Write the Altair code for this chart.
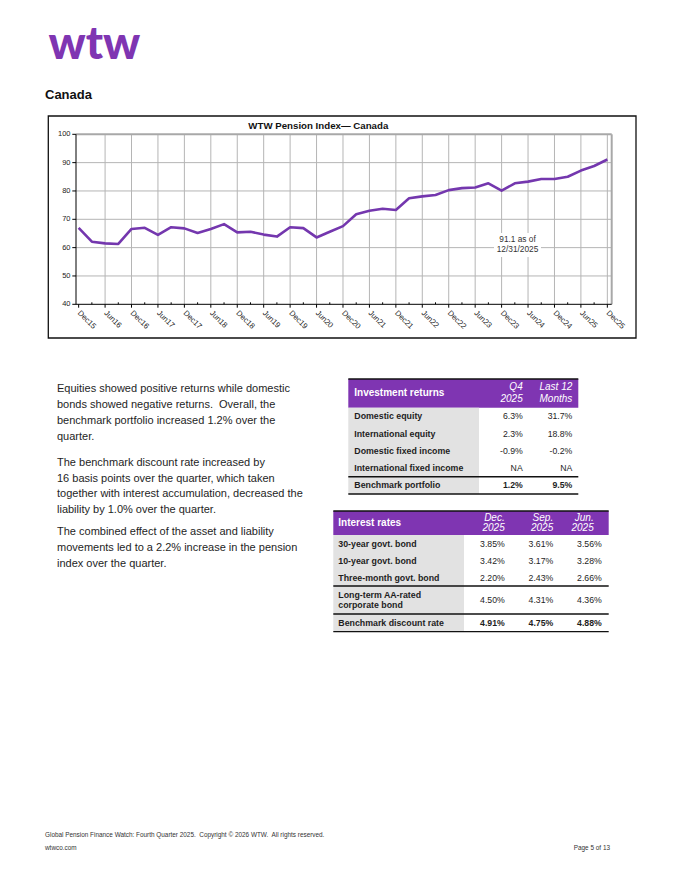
import altair as alt
import pandas as pd

# ---------------- data ----------------
quarters = ["Dec15", "Mar16", "Jun16", "Sep16", "Dec16", "Mar17", "Jun17", "Sep17", "Dec17",
            "Mar18", "Jun18", "Sep18", "Dec18", "Mar19", "Jun19", "Sep19", "Dec19",
            "Mar20", "Jun20", "Sep20", "Dec20", "Mar21", "Jun21", "Sep21", "Dec21",
            "Mar22", "Jun22", "Sep22", "Dec22", "Mar23", "Jun23", "Sep23", "Dec23",
            "Mar24", "Jun24", "Sep24", "Dec24", "Mar25", "Jun25", "Sep25", "Dec25"]
index_values = [67.0, 62.1, 61.5, 61.3, 66.6, 67.0, 64.5, 67.2, 66.8,
                65.2, 66.6, 68.3, 65.4, 65.6, 64.6, 63.9, 67.2,
                66.9, 63.6, 65.6, 67.6, 71.8, 73.0, 73.7, 73.3,
                77.4, 78.1, 78.6, 80.3, 81.0, 81.2, 82.7, 80.1,
                82.7, 83.3, 84.2, 84.2, 85.0, 87.2, 88.8, 91.1]
tick_labels = ["Dec15", "Jun16", "Dec16", "Jun17", "Dec17", "Jun18", "Dec18", "Jun19",
               "Dec19", "Jun20", "Dec20", "Jun21", "Dec21", "Jun22", "Dec22", "Jun23",
               "Dec23", "Jun24", "Dec24", "Jun25", "Dec25"]
y_ticks = [40, 50, 60, 70, 80, 90, 100]

returns_rows = ["Domestic equity", "International equity", "Domestic fixed income",
                "International fixed income", "Benchmark portfolio"]
returns_cols = ["Q4\n2025", "Last 12\nMonths"]
returns_q4 = ["6.3%", "2.3%", "-0.9%", "NA", "1.2%"]
returns_12m = ["31.7%", "18.8%", "-0.2%", "NA", "9.5%"]

rates_rows = ["30-year govt. bond", "10-year govt. bond", "Three-month govt. bond",
              "Long-term AA-rated\ncorporate bond", "Benchmark discount rate"]
rates_cols = ["Dec.\n2025", "Sep.\n2025", "Jun.\n2025"]
rates_dec = ["3.85%", "3.42%", "2.20%", "4.50%", "4.91%"]
rates_sep = ["3.61%", "3.17%", "2.43%", "4.31%", "4.75%"]
rates_jun = ["3.56%", "3.28%", "2.66%", "4.36%", "4.88%"]

para1 = "Equities showed positive returns while domestic\nbonds showed negative returns.\u00a0 Overall, the\nbenchmark portfolio increased 1.2% over the\nquarter."
para2 = "The benchmark discount rate increased by\n16 basis points over the quarter, which taken\ntogether with interest accumulation, decreased the\nliability by 1.0% over the quarter."
para3 = "The combined effect of the asset and liability\nmovements led to a 2.2% increase in the pension\nindex over the quarter."
footer1 = "Global Pension Finance Watch: Fourth Quarter 2025.\u00a0 Copyright \u00a9 2026 WTW.\u00a0 All rights reserved."

# ---------------- style ----------------
PURPLE = "#7F35B2"
LINE = "#7437AE"
GRID = "#b5b5b5"
FRAME = "#a8a8a8"
GRAYCOL = "#e2e2e2"
TXT = "#1e1e1e"
FONT = "Liberation Sans"


def P(v):  # page pixel -> plot pixel
    return v - 8


one = pd.DataFrame({"k": [0]})


# ---------------- page texts ----------------
def page_text(txt, x, y, size, weight="normal", color=TXT, align="left", font=FONT, lh=None):
    kw = dict(text=txt, fontSize=size, fontWeight=weight, color=color, align=align,
              baseline="alphabetic", font=font)
    if lh is not None:
        kw.update(lineBreak="\n", lineHeight=lh)
    return alt.Chart(one).mark_text(**kw).encode(x=alt.value(P(x)), y=alt.value(P(y)))


page = alt.layer(
    page_text("wtw", 48.5, 58.5, 46, weight=900, color=PURPLE, font="Lato"),
    page_text("Canada", 45, 98.5, 13, weight="bold", color="#111"),
    alt.Chart(one).mark_rect(fillOpacity=0, stroke="#111", strokeWidth=1.3).encode(
        x=alt.value(P(48.3)), x2=alt.value(P(636)), y=alt.value(P(116)), y2=alt.value(P(338))),
    page_text(para1, 57, 391.5, 11, lh=16),
    page_text(para2, 57, 466, 11, lh=15.5),
    page_text(para3, 57, 535, 11, lh=16),
    page_text(footer1, 45, 836.5, 6.4, color="#333"),
    page_text("wtwco.com", 45, 849.5, 6.4, color="#333"),
    page_text("Page 5 of 13", 610, 849.5, 6.4, color="#333", align="right"),
)

# ---------------- line chart ----------------
XS = alt.Scale(domain=[-0.2, 40.33], range=[P(76), P(611.7)], nice=False, zero=False)
YS = alt.Scale(domain=[40, 100], range=[P(304.3), P(134.3)], nice=False, zero=False)


def xf(field):
    return alt.X(f"{field}:Q", scale=XS, axis=None)


def yf(field):
    return alt.Y(f"{field}:Q", scale=YS, axis=None)


def xd(v):
    return alt.XDatum(v, scale=XS, axis=None, type="quantitative")


def yd(v):
    return alt.YDatum(v, scale=YS, axis=None, type="quantitative")


line_df = pd.DataFrame({"q": list(range(len(quarters))), "quarter": quarters, "value": index_values})
tick_df = pd.DataFrame({"label": tick_labels, "q": [quarters.index(t) for t in tick_labels]})
minor_df = pd.DataFrame({"q": [i for i, n in enumerate(quarters) if n not in tick_labels]})
ytick_df = pd.DataFrame({"v": y_ticks})

hgrid = alt.Chart(ytick_df[(ytick_df.v > 40) & (ytick_df.v < 100)]).mark_rule(
    color=GRID, strokeWidth=1).encode(y=yf("v"), x=xd(-0.2), x2=alt.X2Datum(40.33))
vgrid = alt.Chart(tick_df[tick_df.q > 0]).mark_rule(color=GRID, strokeWidth=1).encode(
    x=xf("q"), y=yd(40), y2=alt.Y2Datum(100))
top_border = alt.Chart(one).mark_rule(color=FRAME, strokeWidth=2).encode(
    y=yd(100), x=xd(-0.2), x2=alt.X2Datum(40.33))
right_border = alt.Chart(one).mark_rule(color=FRAME, strokeWidth=2).encode(
    x=xd(40.33), y=yd(40), y2=alt.Y2Datum(100))
x_axis = alt.Chart(one).mark_rule(color="#000", strokeWidth=1).encode(
    y=yd(40), x=xd(-0.2), x2=alt.X2Datum(40.33))
y_axis = alt.Chart(one).mark_rule(color="#000", strokeWidth=1).encode(
    x=xd(-0.2), y=yd(40), y2=alt.Y2Datum(100))
major_ticks = alt.Chart(tick_df).mark_rule(color="#000", strokeWidth=1).encode(
    x=xf("q"), y=yd(40), y2=alt.Y2Datum(38.8))
minor_ticks = alt.Chart(minor_df).mark_rule(color="#000", strokeWidth=1).encode(
    x=xf("q"), y=yd(40), y2=alt.Y2Datum(40.7))
y_tickmarks = alt.Chart(ytick_df).mark_rule(color="#000", strokeWidth=1).encode(
    y=yf("v"), x=xd(-0.2), x2=alt.X2Datum(-0.48))
y_labels = alt.Chart(ytick_df).mark_text(align="right", baseline="middle", fontSize=7.5,
                                          color="#222", font=FONT).encode(
    y=yf("v"), x=alt.value(P(70.5)), text="v:Q")
x_labels = alt.Chart(tick_df).mark_text(align="left", baseline="middle", fontSize=7.8, angle=45,
                                         color="#222", font=FONT).encode(
    x=xf("q"), y=alt.value(P(312)), text="label:N")
annot_box = alt.Chart(one).mark_rect(color="white").encode(
    x=alt.value(P(494)), x2=alt.value(P(541)), y=alt.value(P(233)), y2=alt.value(P(257)))
annot = alt.Chart(one).mark_text(text=f"{index_values[-1]} as of\n12/31/2025", lineBreak="\n",
                                 lineHeight=10.3, fontSize=8.3, color="#333", align="center",
                                 baseline="middle", font=FONT).encode(
    x=alt.value(P(517.5)), y=alt.value(P(240)))
series = alt.Chart(line_df).mark_line(color=LINE, strokeWidth=2.6, strokeJoin="round").encode(
    x=xf("q"), y=yf("value"))
chart_title = page_text("WTW Pension Index\u2014 Canada", 318.3, 128.5, 9.7, weight="bold",
                        color="#111", align="center")

line_chart = alt.layer(hgrid, vgrid, top_border, right_border, annot_box, annot,
                       x_axis, y_axis, major_ticks, minor_ticks, y_tickmarks,
                       y_labels, x_labels, series, chart_title)


# ---------------- tables ----------------
def build_table(rows, cols, values, row_units, head_units, y_top, y_bottom, x_left, x_right,
                gray_right, label_x, col_left, col_right, head_title, head_lh, sep_after,
                head_dx=None, row_lh=9.3):
    total = sum(row_units)
    unit_px = (y_bottom - y_top) / (total + head_units)
    TS = alt.Scale(domain=[-head_units, total], range=[P(y_top), P(y_bottom)], nice=False, zero=False)
    CS = alt.Scale(type="point", domain=cols, range=[P(col_left), P(col_right)], padding=0)
    centers, acc = [], 0.0
    for h in row_units:
        centers.append(acc + h / 2)
        acc += h
    bounds = [sum(row_units[:i + 1]) for i in range(len(row_units))]
    # first-line position of each (possibly multi-line) label, so the block is centred
    first_line = [c - (r.count("\n") * row_lh / 2) / unit_px for c, r in zip(centers, rows)]

    def yd_(v):
        return alt.YDatum(v, scale=TS, axis=None, type="quantitative")

    rows_df = pd.DataFrame({"row": rows, "c": first_line})
    recs = []
    for ci, col in enumerate(cols):
        for ri, row in enumerate(rows):
            recs.append({"row": row, "col": col, "c": centers[ri], "val": values[ci][ri],
                         "bench": row.startswith("Benchmark")})
    val_df = pd.DataFrame(recs)
    cols_df = pd.DataFrame({"col": cols, "ci": list(range(len(cols)))})

    layers = [
        alt.Chart(one).mark_rect(color=PURPLE).encode(
            x=alt.value(P(x_left)), x2=alt.value(P(x_right)), y=yd_(-head_units), y2=alt.Y2Datum(0)),
        alt.Chart(one).mark_rect(color=GRAYCOL).encode(
            x=alt.value(P(x_left)), x2=alt.value(P(gray_right)), y=yd_(0), y2=alt.Y2Datum(total)),
        alt.Chart(pd.DataFrame({"b": [-head_units] + [bounds[i] for i in sep_after] + [total]})).mark_rule(
            color="#111", strokeWidth=1.3).encode(
            y=alt.Y("b:Q", scale=TS, axis=None), x=alt.value(P(x_left)), x2=alt.value(P(x_right))),
        alt.Chart(one).mark_text(text=head_title, fontSize=10, fontWeight="bold", color="white",
                                 align="left", baseline="middle", font=FONT).encode(
            x=alt.value(P(label_x)), y=yd_(-head_units / 2)),
    ]
    dxs = head_dx or [0] * len(cols)
    for ci, col in enumerate(cols):
        layers.append(
            alt.Chart(cols_df[cols_df.ci == ci]).mark_text(
                fontSize=10, fontStyle="italic", color="white", align="right", baseline="middle",
                lineBreak="\n", lineHeight=head_lh, font=FONT, dx=dxs[ci], dy=-head_lh / 2).encode(
                x=alt.X("col:N", scale=CS, axis=None), y=yd_(-head_units / 2), text="col:N"))
    layers += [
        alt.Chart(rows_df).mark_text(fontSize=8.8, fontWeight="bold", color=TXT, align="left",
                                     baseline="middle", lineBreak="\n", lineHeight=row_lh,
                                     font=FONT).encode(
            x=alt.value(P(label_x)), y=alt.Y("c:Q", scale=TS, axis=None), text="row:N"),
        alt.Chart(val_df[~val_df.bench]).mark_text(fontSize=8.7, color=TXT, align="right",
                                                   baseline="middle", font=FONT).encode(
            x=alt.X("col:N", scale=CS, axis=None), y=alt.Y("c:Q", scale=TS, axis=None), text="val:N"),
        alt.Chart(val_df[val_df.bench]).mark_text(fontSize=8.7, fontWeight="bold", color=TXT,
                                                  align="right", baseline="middle", font=FONT).encode(
            x=alt.X("col:N", scale=CS, axis=None), y=alt.Y("c:Q", scale=TS, axis=None), text="val:N"),
    ]
    return alt.layer(*layers)


table1 = build_table(returns_rows, returns_cols, [returns_q4, returns_12m],
                     row_units=[1, 1, 1, 1, 1], head_units=1.663, y_top=379, y_bottom=494,
                     x_left=348.3, x_right=578.3, gray_right=479, label_x=354.3,
                     col_left=522.7, col_right=572.3, head_title="Investment returns",
                     head_lh=12.3, sep_after=[3])

table2 = build_table(rates_rows, rates_cols, [rates_dec, rates_sep, rates_jun],
                     row_units=[1, 1, 1, 1.647, 1.04], head_units=1.412, y_top=511, y_bottom=631.7,
                     x_left=333.3, x_right=608.7, gray_right=464, label_x=338.3,
                     col_left=504.7, col_right=601.7, head_title="Interest rates",
                     head_lh=10.4, sep_after=[2, 3], head_dx=[0, 0, -8])

chart = alt.layer(page, line_chart, table1, table2).resolve_scale(
    x="independent", y="independent"
).properties(
    width=664, height=864, padding=0, autosize=alt.AutoSizeParams(type="none"),
    background="white"
).configure_view(stroke=None).configure_axis(disable=True)

chart.save("out.html", embed_options={"renderer": "svg", "actions": False})
